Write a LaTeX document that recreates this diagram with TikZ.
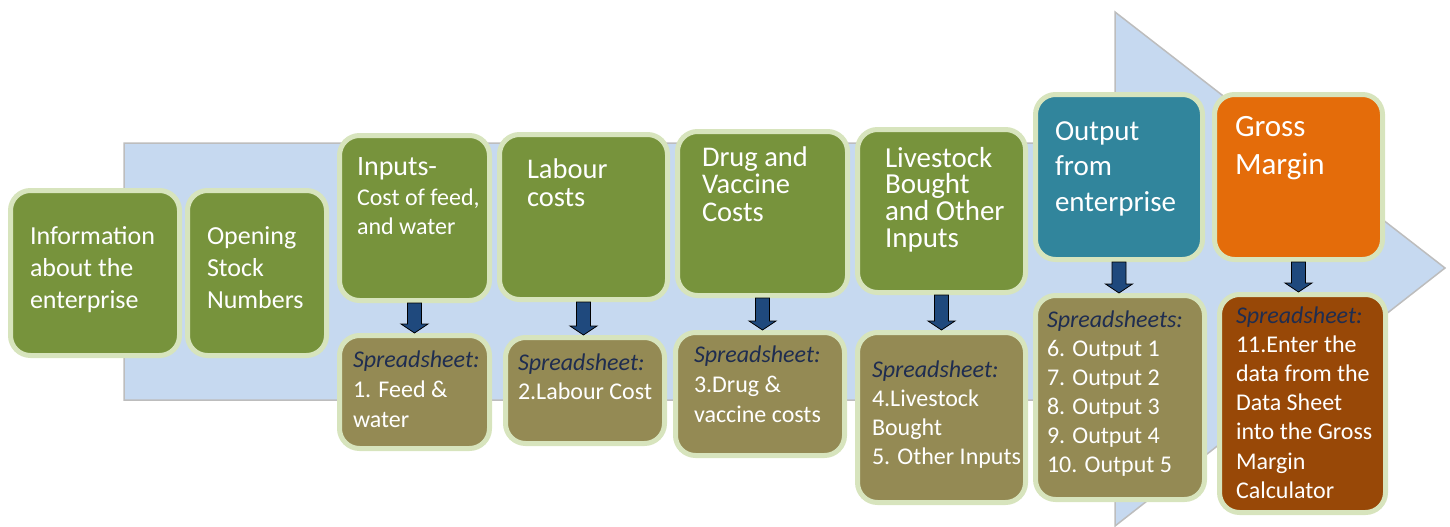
\documentclass[tikz,border=0pt]{standalone}
\usepackage{fontspec}
\setmainfont{Carlito}
\usetikzlibrary{calc}
\definecolor{bgarrow}{HTML}{C6D9F0}
\definecolor{bgedge}{HTML}{BDBDBD}
\definecolor{rim}{HTML}{D7E4BD}
\definecolor{grn}{HTML}{77933C}
\definecolor{olv}{HTML}{948A54}
\definecolor{tealx}{HTML}{31859C}
\definecolor{orng}{HTML}{E46C0A}
\definecolor{brwn}{HTML}{984807}
\definecolor{arrblue}{HTML}{1F497D}
\definecolor{navy}{HTML}{1F2D50}
\newcommand\stk[2]{\vtop{\baselineskip=#1\lineskiplimit=-1000pt\lineskip=0pt\halign{##\hfil\cr#2\crcr}}}
\newcommand\sst[1]{{\itshape\color{navy}#1}}
\newcommand\fs[1]{\fontsize{#1}{#1}\selectfont}
\tikzset{
  box/.style={draw=rim, line width=5pt, rounded corners=20pt, inner sep=0pt, outer sep=2.5pt},
  txt/.style={text=white, anchor=base west, inner sep=0pt, outer sep=0pt},
  blockarrow/.style={draw=black, fill=arrblue, line width=0.8pt, line join=miter},
}
\newcommand\blk[2]{%
  \draw[blockarrow] let \p1=(#1.south), \p2=(#2.north) in
    (\x1-7pt,\y1) -- (\x1+7pt,\y1) -- (\x1+7pt,\y2+9pt) -- (\x1+13.5pt,\y2+9pt)
    -- (\x1,\y2) -- (\x1-13.5pt,\y2+9pt) -- (\x1-7pt,\y2+9pt) -- cycle;}
\begin{document}
\begin{tikzpicture}[x=1pt,y=-1pt]
\useasboundingbox (0,0) rectangle (1450,527);
% big background arrow
\path[fill=bgarrow, draw=bgedge, line width=1.5pt]
  (124,143) -- (1115,143) -- (1115,12) -- (1445,268) -- (1115,526) -- (1115,400) -- (124,400) -- cycle;
% upper boxes
\node[box, fill=grn, minimum width=169pt, minimum height=165pt] (b1) at (95,273) {};
\node[box, fill=grn, minimum width=139pt, minimum height=165pt] (b2) at (257,273) {};
\node[box, fill=grn, minimum width=150pt, minimum height=165pt] (b3) at (414.5,218) {};
\node[box, fill=grn, minimum width=168pt, minimum height=165pt] (b4) at (583.5,217) {};
\node[box, fill=grn, minimum width=170pt, minimum height=164pt] (b5) at (762.5,213.5) {};
\node[box, fill=grn, minimum width=168pt, minimum height=163pt] (b6) at (941.5,211) {};
\node[box, fill=tealx, minimum width=167pt, minimum height=165pt] (b7) at (1119,177) {};
\node[box, fill=orng, minimum width=168pt, minimum height=165pt] (b8) at (1298.5,177) {};
% lower boxes
\node[box, fill=olv, minimum width=150pt, minimum height=113pt] (s3) at (414.5,392) {};
\node[box, fill=olv, minimum width=159pt, minimum height=106pt] (s4) at (585,390.5) {};
\node[box, fill=olv, minimum width=169pt, minimum height=123pt] (s5) at (760,394) {};
\node[box, fill=olv, minimum width=168pt, minimum height=170pt] (s6) at (941.5,417.5) {};
\node[box, fill=olv, minimum width=169pt, minimum height=204pt] (s7) at (1120,397.5) {};
\node[box, fill=brwn, minimum width=166pt, minimum height=218pt] (s8) at (1302.5,403.5) {};
% block arrows
\blk{b3}{s3}
\blk{b4}{s4}
\blk{b5}{s5}
\blk{b6}{s6}
\blk{b7}{s7}
\blk{b8}{s8}
% texts
\node[txt, font=\fs{26}] (t1) at (30,244) {\stk{32pt}{Information\cr about the\cr enterprise}};
\node[txt, font=\fs{26}] (t2) at (207,244) {\stk{32pt}{Opening\cr Stock\cr Numbers}};
\node[txt, font=\fs{24}] (t3) at (357,175.5) {\stk{29.5pt}{{\fs{28}Inputs-}\cr Cost of feed,\cr and water}};
\node[txt, font=\fs{28.5}] (t4) at (527,178) {\stk{28pt}{Labour\cr costs}};
\node[txt, font=\fs{28.5}] (t5) at (702,166) {\stk{27.5pt}{Drug and\cr Vaccine\cr Costs}};
\node[txt, font=\fs{29}] (t6) at (885,167) {\stk{26.7pt}{Livestock\cr Bought\cr and Other\cr Inputs}};
\node[txt, font=\fs{29}] (t7) at (1055,140) {\stk{35.5pt}{Output\cr from\cr enterprise}};
\node[txt, font=\fs{31}] (t8) at (1235,136) {\stk{38pt}{Gross\cr Margin}};
\node[txt, font=\fs{24}] (u3) at (353,367) {\stk{30pt}{\sst{Spreadsheet:}\cr 1. Feed \&\cr water}};
\node[txt, font=\fs{24}] (u4) at (518,370) {\stk{29pt}{\sst{Spreadsheet:}\cr 2.Labour Cost}};
\node[txt, font=\fs{24}] (u5) at (694,362) {\stk{30pt}{\sst{Spreadsheet:}\cr 3.Drug \&\cr vaccine costs}};
\node[txt, font=\fs{24}] (u6) at (872,377) {\stk{29pt}{\sst{Spreadsheet:}\cr 4.Livestock\cr Bought\cr 5. Other Inputs}};
\node[txt, font=\fs{24}] (u7) at (1047,327) {\stk{29pt}{\sst{Spreadsheets:}\cr 6. Output 1\cr 7. Output 2\cr 8. Output 3\cr 9. Output 4\cr 10. Output 5}};
\node[txt, font=\fs{24}] (u8) at (1236,323) {\stk{29.2pt}{\sst{Spreadsheet:}\cr 11.Enter the\cr data from the\cr Data Sheet\cr into the Gross\cr Margin\cr Calculator}};
\end{tikzpicture}
\end{document}
